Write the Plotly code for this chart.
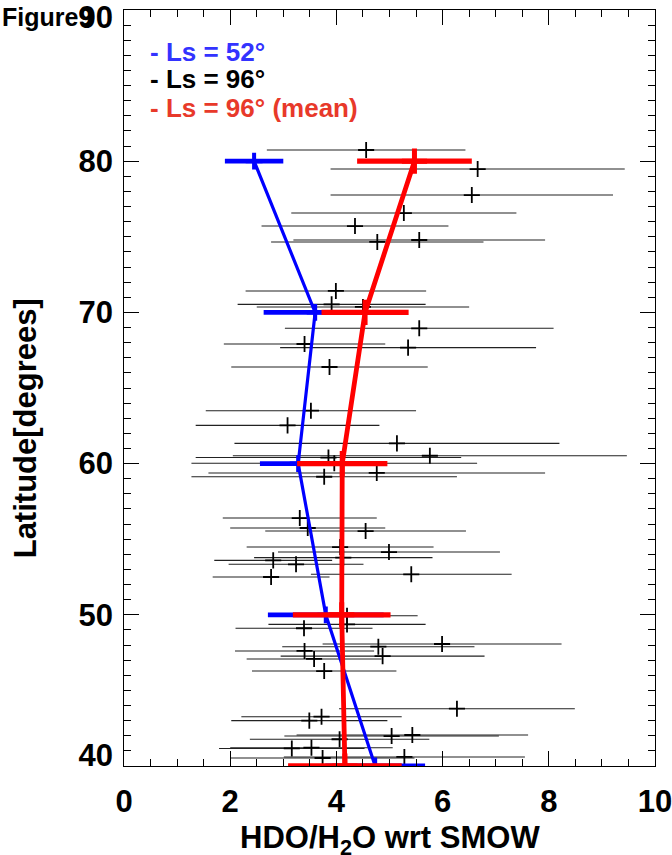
import plotly.graph_objects as go

# ---- data ----
# Ls = 96 individual retrievals
obs_x = [4.56, 6.66, 6.55, 5.27, 4.35, 5.56, 4.77, 3.99, 3.91, 4.50,
         5.56, 3.40, 5.35, 3.87, 3.52, 3.08, 5.14, 5.76, 3.85, 3.96,
         4.76, 3.77, 3.31, 3.46, 4.55, 4.07, 4.99, 4.13, 2.81, 3.24,
         5.41, 2.77, 4.20, 4.20, 3.39, 5.99, 4.79, 3.40, 4.87, 3.58,
         3.77, 6.27, 3.72, 3.49, 5.43, 5.04, 4.06, 3.53, 3.16, 5.28,
         3.74]
obs_lat = [80.74, 79.48, 77.76, 76.57, 75.71, 74.79, 74.66, 71.42, 70.53, 70.36,
           68.95, 67.91, 67.67, 66.39, 63.50, 62.53, 61.34, 60.52, 60.40, 60.02,
           59.38, 59.13, 56.40, 55.74, 55.54, 54.48, 54.15, 53.78, 53.60, 53.34,
           52.68, 52.50, 49.94, 49.37, 49.11, 48.07, 47.89, 47.61, 47.27, 47.08,
           46.28, 43.79, 43.26, 43.00, 42.05, 41.98, 41.77, 41.21, 41.16, 40.60,
           40.53]
obs_err = [1.87, 2.77, 2.66, 2.12, 1.76, 2.37, 2.00, 1.70, 1.77, 2.00,
           2.53, 1.52, 2.41, 1.85, 1.98, 1.73, 3.06, 3.71, 2.50, 2.69,
           3.17, 2.50, 1.45, 1.46, 1.89, 1.76, 2.09, 1.68, 1.11, 1.27,
           1.89, 1.10, 1.33, 1.48, 1.29, 2.25, 1.81, 1.31, 1.92, 1.27,
           1.36, 2.22, 1.51, 1.47, 2.18, 2.02, 1.69, 1.53, 1.37, 2.27,
           1.73]

# Ls = 52 (blue)
ls52_lat = [80, 70, 60, 50, 40]
ls52_x = [2.45, 3.60, 3.28, 3.80, 4.73]
ls52_err = [0.55, 0.97, 0.72, 1.09, 0.94]

# Ls = 96 mean (red)
mean_lat = [80, 70, 60, 50, 40]
mean_x = [5.47, 4.54, 4.11, 4.10, 4.16]
mean_err = [1.08, 0.82, 0.85, 0.92, 1.07]

x_ticks = [0, 2, 4, 6, 8, 10]
y_ticks = [40, 50, 60, 70, 80, 90]
y_tick_text = ["40", "50", "60", "70", "80", "90"]

# where the y labels sit (edge labels pulled inside the frame, as in the original)
y_label_pos = [40.72, 50, 60, 70, 80, 89.55]

FONT = "Liberation Sans, Arial, Helvetica, sans-serif"
BLUE = "#0000FF"
RED = "#FF0000"
TICKFONT = dict(family=FONT, size=31, color="black", weight="bold")

fig = go.Figure()

fig.add_trace(go.Scatter(
    x=obs_x, y=obs_lat, mode="markers",
    marker=dict(symbol="cross-thin", size=11.5, color="black",
                line=dict(color="black", width=1.8)),
    error_x=dict(type="data", array=obs_err, symmetric=True,
                 thickness=1.1, width=0, color="#222222"),
    cliponaxis=True,
))

fig.add_trace(go.Scatter(
    x=ls52_x, y=ls52_lat, mode="lines+markers",
    line=dict(color=BLUE, width=3.2),
    marker=dict(symbol="cross-thin", size=12, color=BLUE,
                line=dict(color=BLUE, width=4)),
    error_x=dict(type="data", array=ls52_err, symmetric=True,
                 thickness=4.8, width=0, color=BLUE),
    cliponaxis=True,
))

fig.add_trace(go.Scatter(
    x=mean_x, y=mean_lat, mode="lines+markers",
    line=dict(color=RED, width=4.8),
    marker=dict(symbol="cross-thin", size=18, color=RED,
                line=dict(color=RED, width=5)),
    error_x=dict(type="data", array=mean_err, symmetric=True,
                 thickness=5.3, width=0, color=RED),
    cliponaxis=True,
))

# empty trace so the label-only overlay axis is drawn
fig.add_trace(go.Scatter(x=[], y=[], yaxis="y2", hoverinfo="skip"))

axis_common = dict(
    showgrid=False, zeroline=False, showline=True, linecolor="black",
    linewidth=1.2, mirror="ticks", ticks="inside", ticklen=15,
    tickwidth=1.2, tickcolor="black", tickfont=TICKFONT,
    ticklabeloverflow="allow", automargin=False,
)

fig.update_layout(
    xaxis=dict(range=[0, 10], tickvals=x_ticks,
               ticktext=[str(v) for v in x_ticks],
               minor=dict(dtick=0.5, ticks="inside", ticklen=7,
                          tickwidth=1, tickcolor="black"),
               ticklabelstandoff=8, **axis_common),
    yaxis=dict(range=[40, 90], tickvals=y_ticks, showticklabels=False,
               minor=dict(dtick=1, ticks="inside", ticklen=7,
                          tickwidth=1, tickcolor="black"),
               **axis_common),
    yaxis2=dict(range=[40, 90], overlaying="y", anchor="x", side="left",
                tickvals=y_label_pos, ticktext=y_tick_text, ticks="",
                showline=False, showgrid=False, zeroline=False,
                tickfont=TICKFONT, ticklabelstandoff=10,
                ticklabeloverflow="allow", automargin=False),
)

annos = [
    dict(text="<b>HDO/H<sub>2</sub>O wrt SMOW</b>", x=0.5, y=-0.098,
         xref="paper", yref="paper", xanchor="center", yanchor="middle",
         showarrow=False, font=dict(family=FONT, size=31, color="black")),
    dict(text="<b>Latitude[degrees]</b>", x=-0.186, y=0.447,
         xref="paper", yref="paper", xanchor="center", yanchor="middle",
         textangle=-90, showarrow=False,
         font=dict(family=FONT, size=31, color="black")),
    dict(text="<b>Figure9</b>", x=-0.2335, y=1.012, xref="paper", yref="paper",
         xanchor="left", yanchor="top", showarrow=False,
         font=dict(family=FONT, size=25, color="black")),
    dict(text="<b>- Ls = 52°</b>", x=0.045, y=0.945, xref="paper", yref="paper",
         xanchor="left", yanchor="middle", showarrow=False,
         font=dict(family=FONT, size=26, color="#3333FF")),
    dict(text="<b>- Ls = 96°</b>", x=0.045, y=0.909, xref="paper", yref="paper",
         xanchor="left", yanchor="middle", showarrow=False,
         font=dict(family=FONT, size=26, color="black")),
    dict(text="<b>- Ls = 96° (mean)</b>", x=0.045, y=0.871, xref="paper",
         yref="paper", xanchor="left", yanchor="middle", showarrow=False,
         font=dict(family=FONT, size=26, color="#E8392A")),
]

fig.update_layout(
    width=672, height=855,
    margin=dict(l=124, r=17, t=10, b=89),
    paper_bgcolor="white", plot_bgcolor="white",
    showlegend=False, annotations=annos,
)

fig.write_html("out.html")
